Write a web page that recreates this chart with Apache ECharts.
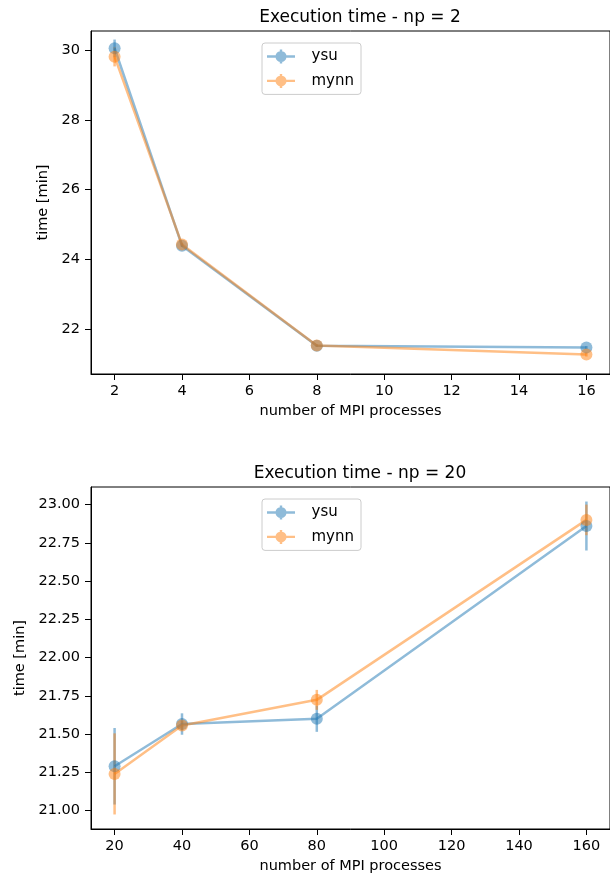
<!DOCTYPE html>
<html>
<head>
<meta charset="utf-8">
<script src="https://cdn.jsdelivr.net/npm/echarts@6/dist/echarts.min.js"></script>
<style>
html, body { margin: 0; padding: 0; background: #fff; }
#chart { width: 610px; height: 880px; }
</style>
</head>
<body>
<div id="chart"></div>
<script>
// ---------- 上图 np = 2 ----------
const procsTop = [2, 4, 8, 16]
const ysuTop = [30.05, 24.39, 21.52, 21.47]
const ysuTopErr = [0.25, 0.04, 0.03, 0.04]
const mynnTop = [29.81, 24.42, 21.53, 21.27]
const mynnTopErr = [0.28, 0.05, 0.03, 0.06]
const xTicksTop = [2, 4, 6, 8, 10, 12, 14, 16]
const yTicksTop = [22, 24, 26, 28, 30]

// ---------- 下图 np = 20 ----------
const procsBottom = [20, 40, 80, 160]
const ysuBottom = [21.29, 21.566, 21.60, 22.86]
const ysuBottomErr = [0.25, 0.07, 0.085, 0.16]
const mynnBottom = [21.24, 21.556, 21.724, 22.90]
const mynnBottomErr = [0.265, 0.03, 0.065, 0.1]
const xTicksBottom = [20, 40, 60, 80, 100, 120, 140, 160]
const yTicksBottom = [21, 21.25, 21.5, 21.75, 22, 22.25, 22.5, 22.75, 23]

const BLUE = '#1f77b4'
const ORANGE = '#ff7f0e'
const FONT = 'DejaVu Sans'
// 图例图标：横线 + 圆点 + 竖向误差线（同一绕向，避免镂空）
const LEGEND_ICON = 'path://M0 5.8L28 5.8L28 8.2L0 8.2Z M8.5 7A5.5 5.5 0 1 1 19.5 7A5.5 5.5 0 1 1 8.5 7Z M12.8 0L15.2 0L15.2 14L12.8 14Z'

function lineSeries (name, xs, ys, color, idx) {
  return {
    name: name,
    type: 'line',
    xAxisIndex: idx,
    yAxisIndex: idx,
    symbol: 'circle',
    symbolSize: 12,
    showSymbol: true,
    itemStyle: { color: color, opacity: 0.5, borderWidth: 0 },
    lineStyle: { color: color, width: 2.5, opacity: 0.5 },
    emphasis: { disabled: true },
    z: 3,
    data: xs.map((x, i) => [x, ys[i]])
  }
}

function errSeries (name, xs, ys, errs, color, idx) {
  return {
    name: name,
    type: 'custom',
    xAxisIndex: idx,
    yAxisIndex: idx,
    z: 2,
    itemStyle: { color: color },
    renderItem (params, api) {
      const hi = api.coord([api.value(0), api.value(2)])
      const lo = api.coord([api.value(0), api.value(1)])
      return {
        type: 'line',
        shape: { x1: hi[0], y1: hi[1], x2: lo[0], y2: lo[1] },
        style: { stroke: color, lineWidth: 2.5, opacity: 0.5 }
      }
    },
    data: xs.map((x, i) => [x, ys[i] - errs[i], ys[i] + errs[i]])
  }
}

function xAxisOf (idx, min, max, ticks) {
  return {
    type: 'value',
    gridIndex: idx,
    min: min,
    max: max,
    name: 'number of MPI processes',
    nameLocation: 'middle',
    nameGap: 30,
    nameTextStyle: { color: '#000', fontFamily: FONT, fontSize: 14.5 },
    axisLine: { show: true, onZero: false, lineStyle: { color: '#000', width: 1 } },
    axisTick: { show: true, length: 6, customValues: ticks, lineStyle: { color: '#000' } },
    axisLabel: { color: '#000', fontFamily: FONT, fontSize: 14.5, margin: 10, customValues: ticks },
    splitLine: { show: false }
  }
}

function yAxisOf (idx, min, max, ticks, gap, digits) {
  return {
    type: 'value',
    gridIndex: idx,
    min: min,
    max: max,
    name: 'time [min]',
    nameLocation: 'middle',
    nameGap: gap,
    nameTextStyle: { color: '#000', fontFamily: FONT, fontSize: 14.5 },
    axisLine: { show: true, onZero: false, lineStyle: { color: '#000', width: 1 } },
    axisTick: { show: true, length: 6, customValues: ticks, lineStyle: { color: '#000' } },
    axisLabel: {
      color: '#000',
      fontFamily: FONT,
      fontSize: 14.5,
      margin: 11,
      customValues: ticks,
      formatter: v => v.toFixed(digits)
    },
    splitLine: { show: false }
  }
}

function legendOf (top) {
  return {
    left: 262,
    top: top,
    orient: 'vertical',
    itemWidth: 33,
    itemHeight: 14,
    itemGap: 9.4,
    padding: [6, 7, 6, 5],
    borderColor: '#cccccc',
    borderWidth: 1,
    borderRadius: 3,
    backgroundColor: 'rgba(255,255,255,0.8)',
    selectedMode: false,
    itemStyle: { opacity: 0.5 },
    textStyle: { color: '#000', fontFamily: FONT, fontSize: 15, padding: [0, 0, 0, 9] },
    data: [
      { name: 'ysu', icon: LEGEND_ICON },
      { name: 'mynn', icon: LEGEND_ICON }
    ]
  }
}

const option = {
  animation: false,
  backgroundColor: '#fff',
  title: [
    { text: 'Execution time - np = 2', left: 355, top: 4, textAlign: 'center',
      textStyle: { color: '#000', fontFamily: FONT, fontSize: 17, fontWeight: 'normal' } },
    { text: 'Execution time - np = 20', left: 355, top: 460, textAlign: 'center',
      textStyle: { color: '#000', fontFamily: FONT, fontSize: 17, fontWeight: 'normal' } }
  ],
  legend: [legendOf(43), legendOf(499)],
  grid: [
    { left: 91, top: 31, width: 528, height: 343, show: true, borderColor: '#000', borderWidth: 1, backgroundColor: 'transparent' },
    { left: 91, top: 487, width: 528, height: 342, show: true, borderColor: '#000', borderWidth: 1, backgroundColor: 'transparent' }
  ],
  xAxis: [
    xAxisOf(0, 1.3, 16.7, xTicksTop),
    xAxisOf(1, 13, 167, xTicksBottom)
  ],
  yAxis: [
    yAxisOf(0, 20.71, 30.545, yTicksTop, 38, 0),
    yAxisOf(1, 20.88, 23.115, yTicksBottom, 60, 2)
  ],
  series: [
    lineSeries('ysu', procsTop, ysuTop, BLUE, 0),
    errSeries('ysu', procsTop, ysuTop, ysuTopErr, BLUE, 0),
    lineSeries('mynn', procsTop, mynnTop, ORANGE, 0),
    errSeries('mynn', procsTop, mynnTop, mynnTopErr, ORANGE, 0),
    lineSeries('ysu', procsBottom, ysuBottom, BLUE, 1),
    errSeries('ysu', procsBottom, ysuBottom, ysuBottomErr, BLUE, 1),
    lineSeries('mynn', procsBottom, mynnBottom, ORANGE, 1),
    errSeries('mynn', procsBottom, mynnBottom, mynnBottomErr, ORANGE, 1)
  ]
}

const chart = echarts.init(document.getElementById('chart'), null, { renderer: 'canvas' })
chart.setOption(option)
</script>
</body>
</html>
